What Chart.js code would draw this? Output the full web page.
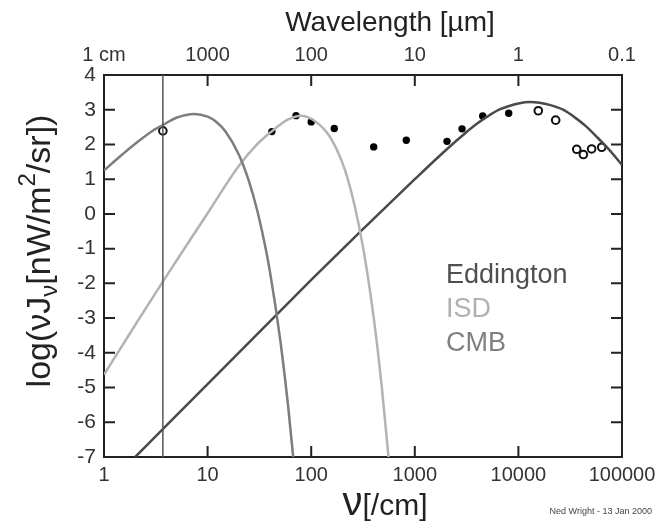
<!DOCTYPE html>
<html>
<head>
<meta charset="utf-8">
<script src="https://cdn.jsdelivr.net/npm/chart.js@4.4.0/dist/chart.umd.min.js"></script>
<style>
  html, body { margin: 0; padding: 0; background: #fff; }
</style>
</head>
<body>
<canvas id="sky" width="670" height="524"></canvas>
<script>
// axis ticks: frequency [/cm] below, wavelength [um] above
const nuTicks = [1, 10, 100, 1000, 10000, 100000];
const nuLabels = ['1', '10', '100', '1000', '10000', '100000'];
const waveLabels = ['1 cm', '1000', '100', '10', '1', '0.1'];

// model curves, log(nu J_nu)
const cmbNu  = [1, 1.5, 2, 3, 3.7, 5, 7.5, 10, 12, 15, 20, 25, 30, 35, 40, 50, 60, 67];
const cmbLog = [1.25, 1.71, 2.02, 2.41, 2.56, 2.77, 2.88, 2.80, 2.66, 2.36, 1.71, 0.95, 0.12, -0.76, -1.67, -3.58, -5.56, -7.0];

const isdNu  = [1, 2, 3.7, 5, 10, 20, 30, 41.7, 60, 80, 100, 141, 176, 212, 260, 320, 400, 480, 557];
const isdLog = [-4.63, -3.2, -1.95, -1.35, 0.02, 1.38, 2.0, 2.38, 2.72, 2.83, 2.74, 2.35, 1.86, 1.26, 0.29, -1.04, -2.96, -4.98, -7.0];

const eddNu  = [2, 5, 10, 30, 100, 300, 1000, 2000, 3000, 4000, 5000, 6500, 8000, 10000, 13000, 16000, 20000, 27000, 35000, 45000, 57000, 75000, 100000];
const eddLog = [-7.0, -5.8, -4.9, -3.47, -1.9, -0.5, 1.0, 1.84, 2.3, 2.6, 2.8, 3.0, 3.1, 3.18, 3.22, 3.2, 3.14, 3.0, 2.78, 2.52, 2.22, 1.85, 1.41];

// measurements
const dirbeNu  = [41.7, 71.4, 100, 167, 401, 828, 2046, 2857, 4520, 8060];
const dirbeLog = [2.37, 2.83, 2.65, 2.46, 1.93, 2.12, 2.09, 2.45, 2.82, 2.90];
const openNu   = [3.7, 15560, 22900, 36560, 42360, 50900, 63700];
const openLog  = [2.39, 2.97, 2.70, 1.86, 1.71, 1.87, 1.92];

// vertical marker line
const markNu  = [3.7, 3.7];
const markLog = [-7, 4];

const legendNames = ['Eddington', 'ISD', 'CMB'];

const pts = (xs, ys) => xs.map((x, i) => ({ x: x, y: ys[i] }));

Chart.defaults.font.family = "'Liberation Sans', Arial, sans-serif";
Chart.defaults.color = '#333';

const FONT = "'Liberation Sans', Arial, sans-serif";

function curve(data, color) {
    return {
        type: 'line',
        data: data,
        borderColor: color,
        borderWidth: 2.5,
        pointRadius: 0,
        showLine: true,
        fill: false,
        cubicInterpolationMode: 'monotone'
    };
}

// inward tick marks, titles and the free text
const decor = {
    id: 'decor',
    afterDraw(chart) {
        const { ctx, chartArea: a, scales } = chart;
        const tl = 11;
        ctx.save();
        ctx.strokeStyle = '#222';
        ctx.lineWidth = 2;
        ctx.beginPath();
        scales.x.ticks.forEach(t => {
            const px = scales.x.getPixelForValue(t.value);
            ctx.moveTo(px, a.bottom); ctx.lineTo(px, a.bottom - tl);
            ctx.moveTo(px, a.top); ctx.lineTo(px, a.top + tl);
        });
        scales.y.ticks.forEach(t => {
            const py = scales.y.getPixelForValue(t.value);
            ctx.moveTo(a.left, py); ctx.lineTo(a.left + tl, py);
            ctx.moveTo(a.right, py); ctx.lineTo(a.right - tl, py);
        });
        ctx.stroke();

        // top title
        ctx.fillStyle = '#222';
        ctx.textBaseline = 'alphabetic';
        ctx.textAlign = 'center';
        ctx.font = '28px ' + FONT;
        ctx.fillText('Wavelength [\u00b5m]', 390, 31);

        // bottom title: nu[/cm]
        ctx.textAlign = 'left';
        ctx.font = '40px ' + FONT;
        const wNu = ctx.measureText('\u03bd').width;
        ctx.font = '30px ' + FONT;
        const wUnit = ctx.measureText('[/cm]').width;
        let x0 = 385 - (wNu + wUnit) / 2;
        ctx.font = '40px ' + FONT;
        ctx.fillText('\u03bd', x0, 515);
        ctx.font = '30px ' + FONT;
        ctx.fillText('[/cm]', x0 + wNu, 515);

        // left title, rotated
        const parts = [
            { t: 'log(\u03bdJ', f: 34, dy: 0 },
            { t: '\u03bd', f: 24, dy: 7 },
            { t: '[nW/m', f: 34, dy: 0 },
            { t: '2', f: 24, dy: -15 },
            { t: '/sr])', f: 34, dy: 0 }
        ];
        let total = 0;
        parts.forEach(p => { ctx.font = p.f + 'px ' + FONT; p.w = ctx.measureText(p.t).width; total += p.w; });
        ctx.save();
        ctx.translate(50, 251);
        ctx.rotate(-Math.PI / 2);
        let cx = -total / 2;
        parts.forEach(p => {
            ctx.font = p.f + 'px ' + FONT;
            ctx.fillText(p.t, cx, p.dy);
            cx += p.w;
        });
        ctx.restore();

        // legend text
        const legendColors = ['#4f4f4f', '#b0b0b0', '#808080'];
        ctx.font = '27px ' + FONT;
        legendNames.forEach((n, i) => {
            ctx.fillStyle = legendColors[i];
            ctx.fillText(n, 446, 283 + i * 34);
        });

        // credit
        ctx.fillStyle = '#444';
        ctx.font = '9px ' + FONT;
        ctx.textAlign = 'right';
        ctx.fillText('Ned Wright - 13 Jan 2000', 652, 514);
        ctx.restore();
    }
};

const border = { display: true, color: '#222', width: 2 };

new Chart(document.getElementById('sky'), {
    type: 'scatter',
    data: {
        datasets: [
            {
                type: 'line',
                data: pts(markNu, markLog),
                borderColor: '#555',
                borderWidth: 1.5,
                pointRadius: 0
            },
            curve(pts(cmbNu, cmbLog), '#7d7d7d'),
            curve(pts(isdNu, isdLog), '#b3b3b3'),
            curve(pts(eddNu, eddLog), '#4a4a4a'),
            {
                data: pts(dirbeNu, dirbeLog),
                pointRadius: 3.7,
                pointBackgroundColor: '#000',
                pointBorderColor: '#000',
                pointBorderWidth: 0
            },
            {
                data: pts(openNu, openLog),
                pointRadius: 3.8,
                pointBackgroundColor: '#fff',
                pointBorderColor: '#111',
                pointBorderWidth: 2
            }
        ]
    },
    options: {
        responsive: false,
        animation: false,
        devicePixelRatio: 1,
        layout: { padding: 0 },
        plugins: { legend: { display: false }, tooltip: { enabled: false } },
        scales: {
            x: {
                type: 'logarithmic',
                position: 'bottom',
                min: 1,
                max: 100000,
                afterBuildTicks: s => { s.ticks = nuTicks.map(v => ({ value: v })); },
                afterFit: s => { s.height = 67; },
                grid: { display: false, drawTicks: false },
                border: border,
                ticks: {
                    autoSkip: false,
                    maxRotation: 0,
                    padding: 6,
                    color: '#333',
                    font: { size: 20 },
                    callback: (v, i) => nuLabels[i]
                }
            },
            x2: {
                type: 'logarithmic',
                position: 'top',
                min: 1,
                max: 100000,
                afterBuildTicks: s => { s.ticks = nuTicks.map(v => ({ value: v })); },
                afterFit: s => { s.height = 75; },
                grid: { display: false, drawTicks: false },
                border: border,
                ticks: {
                    autoSkip: false,
                    maxRotation: 0,
                    padding: 8,
                    color: '#333',
                    font: { size: 20 },
                    callback: (v, i) => waveLabels[i]
                }
            },
            y: {
                type: 'linear',
                position: 'left',
                min: -7,
                max: 4,
                afterFit: s => { s.width = 104; },
                grid: { display: false, drawTicks: false },
                border: border,
                ticks: {
                    stepSize: 1,
                    padding: 8,
                    color: '#333',
                    font: { size: 21 }
                }
            },
            y2: {
                type: 'linear',
                position: 'right',
                min: -7,
                max: 4,
                afterFit: s => { s.width = 48; },
                grid: { display: false, drawTicks: false },
                border: border,
                ticks: { display: false }
            }
        }
    },
    plugins: [decor]
});
</script>
</body>
</html>
